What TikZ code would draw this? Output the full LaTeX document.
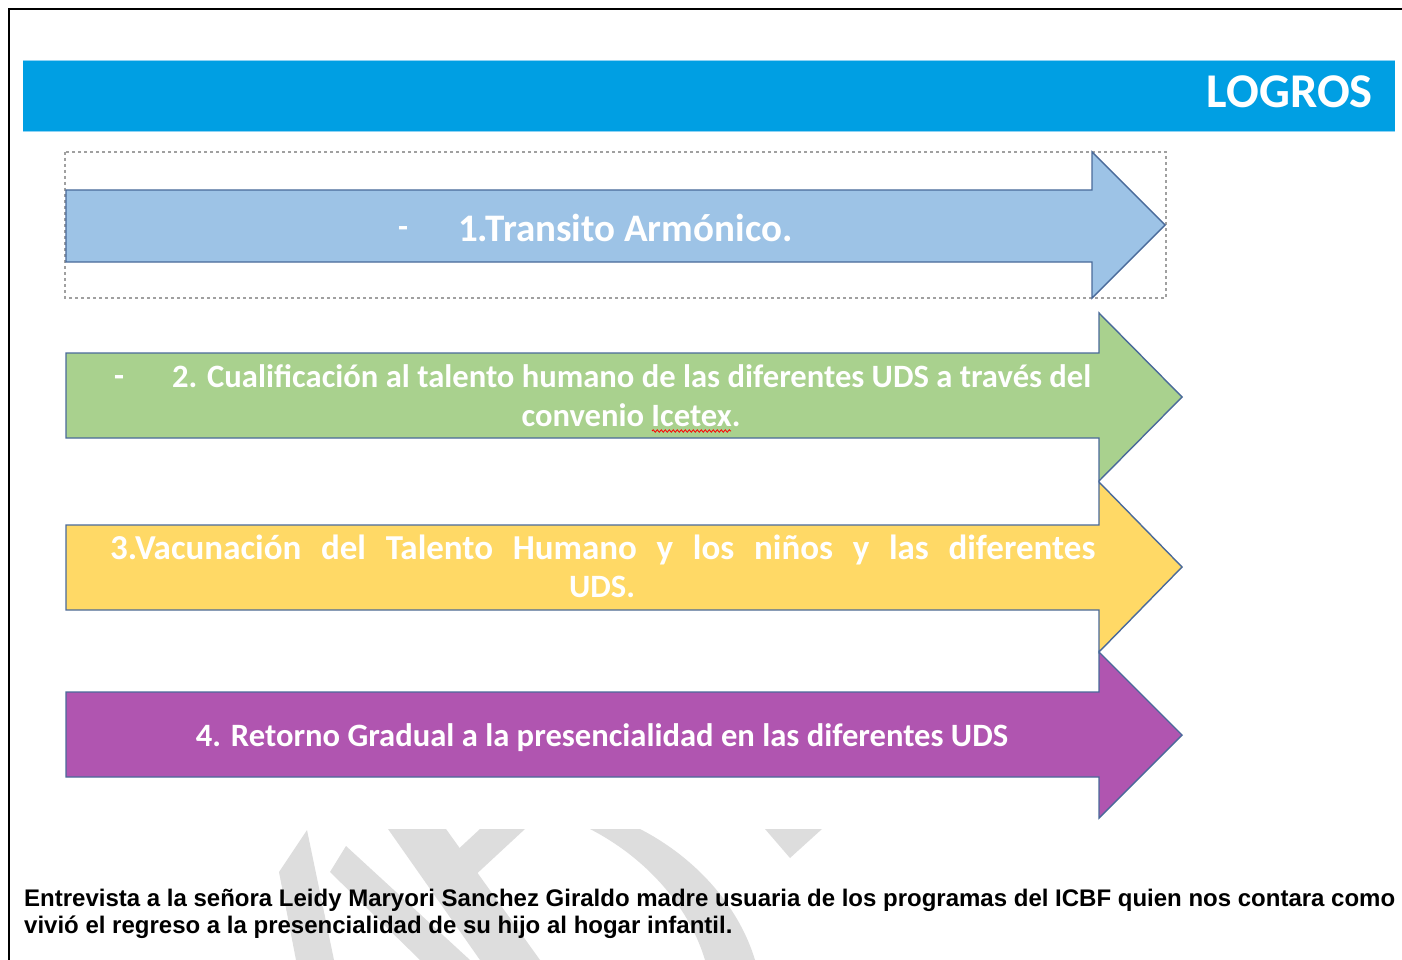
\documentclass[tikz,border=0pt]{standalone}
\usepackage{fontspec}
\newfontfamily\carlito{Carlito}
\newfontfamily\arialfam{Liberation Sans}
\usetikzlibrary{decorations.pathmorphing}
\definecolor{banner}{HTML}{009FE3}
\definecolor{bannerline}{HTML}{8FD3F4}
\definecolor{arrblue}{HTML}{9DC3E6}
\definecolor{arrgreen}{HTML}{A9D18E}
\definecolor{arryellow}{HTML}{FFD966}
\definecolor{arrpurple}{HTML}{B055B0}
\definecolor{arredge}{HTML}{4A6A9A}
\definecolor{wm}{HTML}{DDDDDD}
\definecolor{dotgray}{HTML}{A0A0A0}
\begin{document}
\begin{tikzpicture}[x=1pt,y=-1pt,
  arrowshape/.style={draw=arredge, line width=1.4pt, line join=miter},
  arrtext/.style={text=white, font=\carlito\bfseries\fontsize{32.6}{32.6}\selectfont, inner sep=0pt},
  arrtextbig/.style={text=white, font=\carlito\bfseries\fontsize{35}{35}\selectfont, inner sep=0pt},
  bigtext/.style={text=white, font=\carlito\bfseries\fontsize{39}{39}\selectfont, inner sep=0pt},
  bottomtext/.style={text=black, font=\arialfam\bfseries\fontsize{24}{24}\selectfont, inner sep=0pt, anchor=base west},
  wmark/.style={fill=wm, draw=none}
]
\useasboundingbox (0,0) rectangle (1402,960);
\fill[white] (0,0) rectangle (1402,960);

% outer frame
\draw[line width=2pt, black] (9,961) -- (9,9) -- (1403,9);

% banner
\fill[banner] (23,60) rectangle (1395,132);
\draw[bannerline, line width=1pt] (23,60.5) -- (1395,60.5);
\draw[bannerline, line width=1pt] (23,131.5) -- (1395,131.5);
\node[anchor=base east, text=white, font=\carlito\bfseries\fontsize{48.5}{48.5}\selectfont, inner sep=0pt] (logros) at (1373,108) {LOGROS};

% watermark (partly visible)
\begin{scope}
\clip (0,829) rectangle (1402,960);
\fill[wmark] (279,872) -- (307,830) -- (334,960) -- (296,960) -- cycle;
\fill[wmark] (330,872) -- (346,846) -- (470,960) -- (420,960) -- cycle;
\fill[wmark] (388,829) -- (446,829) -- (540,960) -- (480,960) -- cycle;
\fill[wmark] (480,829) -- (525,829) -- (470,880) -- (452,855) -- cycle;
\fill[wmark] (590,829) -- (640,829) .. controls (700,860) and (740,910) .. (755,960) -- (705,960) .. controls (690,910) and (650,860) .. cycle;
\fill[wmark] (765,829) -- (822,829) -- (790,858) -- cycle;
\end{scope}

% dotted selection box
\draw[dotgray, line width=1.5pt, dash pattern=on 3pt off 3pt] (65,152) rectangle (1166,298);

% arrows
\draw[arrowshape, fill=arrblue] (66,190) -- (1092,190) -- (1092,152) -- (1165,225) -- (1092,298) -- (1092,262) -- (66,262) -- cycle;
\draw[arrowshape, fill=arrgreen] (66,353) -- (1099,353) -- (1099,313) -- (1182,397) -- (1099,481) -- (1099,438) -- (66,438) -- cycle;
\draw[arrowshape, fill=arryellow] (66,525) -- (1099,525) -- (1099,482) -- (1182,567) -- (1099,652) -- (1099,610) -- (66,610) -- cycle;
\draw[arrowshape, fill=arrpurple] (66,692) -- (1099,692) -- (1099,652) -- (1182,735) -- (1099,818) -- (1099,777) -- (66,777) -- cycle;

% arrow texts
\node[arrtext, anchor=base west] (d1) at (398,237) {-};
\node[bigtext, anchor=base west] (t1) at (458,241) {1.Transito Armónico.};

\node[arrtext, anchor=base west] (d2) at (114,386) {-};
\node[arrtext, anchor=base west] (t2a) at (172,387) {\hbox to 919pt{2. Cualificación al talento humano de las diferentes UDS a través del}};
\node[arrtext, anchor=base] (t2b) at (631,426) {convenio Icetex.};
\coordinate (sqa) at (652,431);
\coordinate (sqb) at (731,431);
\draw[red, line width=0.8pt, decorate, decoration={snake, amplitude=1.2pt, segment length=4pt}] (sqa) -- (sqb);

\node[arrtextbig, anchor=base west] (t3a) at (110,559) {\hbox to 985pt{3.Vacunación del Talento Humano y los niños y las diferentes}};
\node[arrtext, anchor=base] (t3b) at (602,597) {UDS.};

\node[arrtext, anchor=base] (t4) at (602,746) {4. Retorno Gradual a la presencialidad en las diferentes UDS};

% bottom text
\node[bottomtext] (b1) at (24,906) {Entrevista a la señora Leidy Maryori Sanchez Giraldo madre usuaria de los programas del ICBF quien nos contara como};
\node[bottomtext] (b2) at (24,933) {vivió el regreso a la presencialidad de su hijo al hogar infantil.};
\end{tikzpicture}
\end{document}
